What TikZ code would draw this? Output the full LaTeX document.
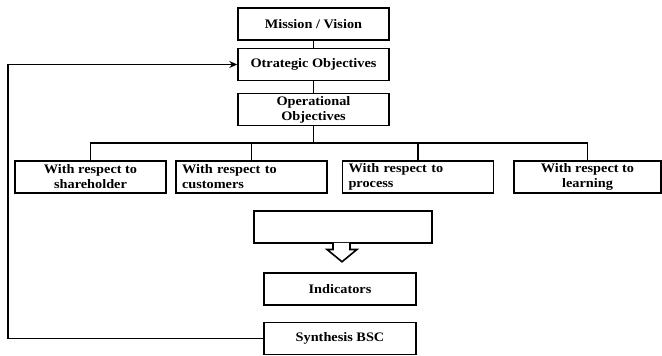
\documentclass[tikz,border=0pt]{standalone}
\usepackage{fontspec}
\setmainfont{Liberation Serif}[FakeStretch=1.1]
\usetikzlibrary{arrows.meta,calc}
\begin{document}
\begin{tikzpicture}[x=1pt,y=-1pt,
  box/.style={draw,line width=1.5pt,rectangle,minimum width=151pt,minimum height=32pt,inner sep=0pt,
    font=\fontsize{13}{15}\selectfont\bfseries,align=center},
  lbox/.style={box,text width=139pt,align=left},
  conn/.style={line width=1.6pt}]
\useasboundingbox (0,0) rectangle (662,356);
\node[box] (mission) at (313.5,24) {Mission / Vision};
\node[box] (strat) at (313.5,64.5) {Otrategic Objectives};
\node[box] (oper) at (313.5,109.5) {Operational\\Objectives};
\node[box] (b1) at (90.5,177) {With respect to\\shareholder};
\node[lbox] (b2) at (251.5,177) {With respect to\\customers};
\node[lbox] (b3) at (418,177) {With respect to\\process};
\node[box,minimum width=147pt] (b4) at (587.5,177) {With respect to\\learning};
\node[box,minimum width=178pt] (empty) at (343,227) {};
\node[box,minimum width=152pt] (ind) at (340,289) {Indicators};
\node[box,minimum width=152pt] (syn) at (340,338.5) {Synthesis BSC};
\coordinate (bus) at (313.5,143);
\coordinate (fb) at (8,338.5);
\draw[conn] (mission.south) -- (strat.north);
\draw[conn] (strat.south) -- (oper.north);
\draw[conn] (oper.south) -- (bus);
\draw[conn] (b1.north) |- (bus) -| (b4.north);
\draw[conn] (b2.north) -- (b2.north |- bus);
\draw[conn] (b3.north) -- (b3.north |- bus);
\draw[conn,-{Stealth[length=8pt,width=7pt]}] (syn.west) -- (fb) |- (strat.west);
\draw[conn,fill=white,line join=miter] ($(empty.south)+(-10,-0.8)$) -- ++(0,6.5) -- ++(-6,0) -- ($(empty.south)+(-1,18)$) -- ($(empty.south)+(14,5.7)$) -- ++(-7,0) -- ($(empty.south)+(7,-0.8)$);
\end{tikzpicture}
\end{document}
